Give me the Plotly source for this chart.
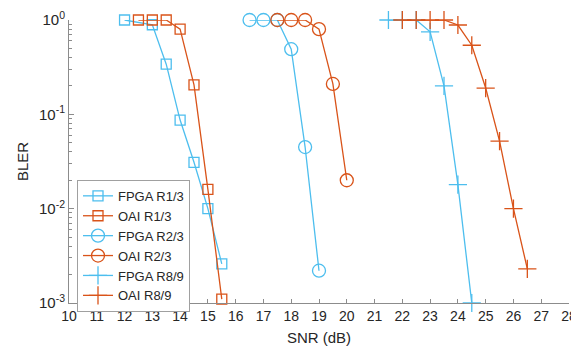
import plotly.graph_objects as go

CYAN = "#4DBEEE"
ORANGE = "#D95319"

# Data
snr_fpga_r13 = [12, 13, 13.5, 14, 14.5, 15, 15.5]
bler_fpga_r13 = [1.0, 0.89, 0.34, 0.087, 0.031, 0.010, 0.0026]

snr_oai_r13 = [12.5, 13, 13.5, 14, 14.5, 15, 15.5]
bler_oai_r13 = [1.0, 1.0, 1.0, 0.80, 0.205, 0.016, 0.0011]

snr_fpga_r23 = [16.5, 17, 17.5, 18, 18.5, 19]
bler_fpga_r23 = [1.0, 1.0, 1.0, 0.49, 0.045, 0.0022]

snr_oai_r23 = [17.5, 18, 18.5, 19, 19.5, 20]
bler_oai_r23 = [1.0, 1.0, 1.0, 0.80, 0.21, 0.020]

snr_fpga_r89 = [21.5, 22, 22.5, 23, 23.5, 24, 24.5]
bler_fpga_r89 = [1.0, 1.0, 1.0, 0.75, 0.20, 0.018, 0.001]

snr_oai_r89 = [22, 22.5, 23, 23.5, 24, 24.5, 25, 25.5, 26, 26.5]
bler_oai_r89 = [1.0, 1.0, 1.0, 1.0, 0.885, 0.54, 0.19, 0.052, 0.010, 0.0023]

x_ticks = list(range(10, 29))
y_tick_vals = [1e-3, 1e-2, 1e-1, 1]
y_tick_text = ["10<sup>-3</sup>", "10<sup>-2</sup>", "10<sup>-1</sup>", "10<sup>0</sup>"]

series = [
    ("FPGA R1/3", snr_fpga_r13, bler_fpga_r13, CYAN, "square-open", 10),
    ("OAI R1/3", snr_oai_r13, bler_oai_r13, ORANGE, "square-open", 10),
    ("FPGA R2/3", snr_fpga_r23, bler_fpga_r23, CYAN, "circle-open", 13),
    ("OAI R2/3", snr_oai_r23, bler_oai_r23, ORANGE, "circle-open", 13),
    ("FPGA R8/9", snr_fpga_r89, bler_fpga_r89, CYAN, "cross-thin-open", 13),
    ("OAI R8/9", snr_oai_r89, bler_oai_r89, ORANGE, "cross-thin-open", 13),
]

fig = go.Figure()
for name, xs, ys, color, sym, size in series:
    fig.add_trace(go.Scatter(
        x=xs, y=ys, name=name, mode="lines+markers", cliponaxis=False,
        line=dict(color=color, width=1.3),
        marker=dict(symbol=sym, size=size, color=color,
                    line=dict(color=color, width=1.3)),
    ))

minor_vals = [m * 10 ** e for e in (-3, -2, -1) for m in range(2, 10)]

axis_color = "#8c8c8c"
font_color = "#262626"

# the page body has an 8px default margin, so the figure is 8px smaller
fig.update_layout(
    width=571, height=342,
    margin=dict(l=61, r=10, t=12, b=47, autoexpand=False),
    paper_bgcolor="white", plot_bgcolor="white",
    font=dict(family="Liberation Sans, Arial, sans-serif", size=13, color=font_color),
    showlegend=True,
    legend=dict(
        x=0.016, y=0.435, xanchor="left", yanchor="top",
        bgcolor="white", bordercolor="#a0a0a0", borderwidth=1,
        font=dict(size=13, color=font_color),
        tracegroupgap=0, itemsizing="trace",
    ),
    xaxis=dict(
        range=[10, 28], tickmode="array", tickvals=x_ticks, automargin=False,
        ticks="inside", ticklen=4, tickcolor=axis_color,
        showline=True, linecolor=axis_color, linewidth=1,
        showgrid=False, zeroline=False, mirror=False,
        title=dict(text="SNR (dB)", font=dict(size=15, color=font_color), standoff=9),
        tickfont=dict(size=14, color=font_color),
    ),
    yaxis=dict(
        type="log", range=[-3, 0], automargin=False,
        tickmode="array", tickvals=y_tick_vals, ticktext=y_tick_text,
        ticks="inside", ticklen=5, tickcolor=axis_color,
        showline=True, linecolor=axis_color, linewidth=1,
        showgrid=False, zeroline=False, mirror=False,
        minor=dict(tickmode="array", tickvals=minor_vals, ticks="inside",
                   ticklen=2.5, tickcolor=axis_color, showgrid=False),
        title=dict(text="BLER", font=dict(size=15, color=font_color), standoff=6),
        tickfont=dict(size=15, color=font_color),
    ),
)

fig.write_html("out.html")
